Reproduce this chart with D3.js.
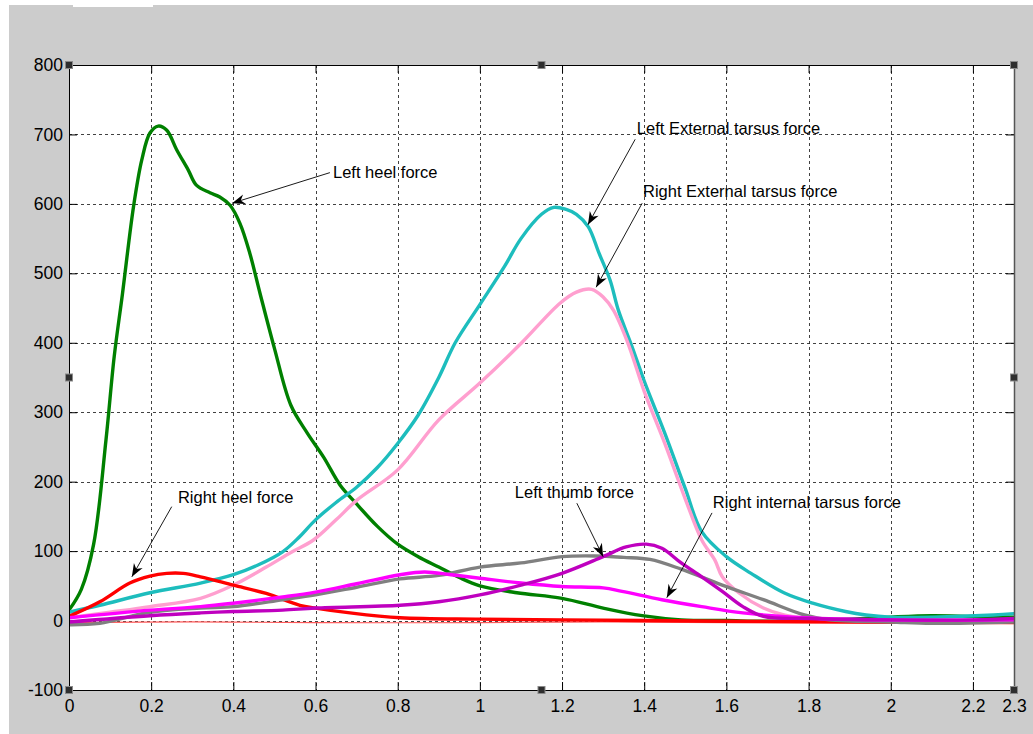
<!DOCTYPE html>
<html>
<head>
<meta charset="utf-8">
<script src="https://cdn.jsdelivr.net/npm/d3@7"></script>
<style>
  html, body { margin: 0; padding: 0; background: #ffffff; }
  svg { display: block; }
  text { font-family: "Liberation Sans", Arial, sans-serif; }
</style>
</head>
<body>
<svg id="chart" width="1033" height="734"></svg>
<script>
// ---- data: time (s) vs. force ----
const xTicks = [0, 0.2, 0.4, 0.6, 0.8, 1, 1.2, 1.4, 1.6, 1.8, 2, 2.2, 2.3];
const yTicks = [-100, 0, 100, 200, 300, 400, 500, 600, 700, 800];

const leftHeel = [[0,15],[0.03,45],[0.06,110],[0.09,260],[0.11,380],[0.13,470],[0.157,596],[0.177,663],
  [0.197,702],[0.217,712],[0.238,706],[0.262,678],[0.29,649],[0.31,627],[0.343,616],[0.367,610],
  [0.392,598],[0.416,572],[0.44,529],[0.465,471],[0.5,392],[0.54,310],[0.58,270],[0.62,235],[0.66,195],
  [0.7,168],[0.75,136],[0.8,110],[0.85,92],[0.9,77],[0.95,62],[1.0,50],[1.09,40],[1.2,32],[1.3,18],
  [1.395,7],[1.49,1],[1.6,0],[1.7,-1],[1.8,0],[1.9,2],[2.0,5],[2.1,7],[2.2,6],[2.3,5]];

const leftExtTarsus = [[0,12],[0.075,22],[0.197,40],[0.32,54],[0.4,66],[0.46,80],[0.52,99],[0.56,120],
  [0.6,145],[0.65,170],[0.7,192],[0.75,220],[0.8,255],[0.85,296],[0.9,350],[0.94,400],[1.0,455],
  [1.06,510],[1.1,550],[1.15,585],[1.18,595],[1.21,592],[1.235,585],[1.264,567],[1.29,529],[1.317,490],
  [1.337,447],[1.37,395],[1.4,345],[1.45,270],[1.5,190],[1.54,128],[1.6,92],[1.66,68],[1.74,40],
  [1.81,25],[1.89,13],[1.94,8],[2.0,5],[2.1,5],[2.25,8],[2.3,10]];

const rightExtTarsus = [[0,4],[0.1,12],[0.197,20],[0.32,32],[0.4,51],[0.48,77],[0.54,98],[0.595,116],
  [0.65,145],[0.7,173],[0.8,217],[0.9,289],[1.0,342],[1.1,399],[1.195,457],[1.235,473],[1.272,477],
  [1.3,466],[1.325,447],[1.36,400],[1.4,330],[1.45,255],[1.5,175],[1.54,116],[1.572,87],[1.59,63],
  [1.63,40],[1.69,18],[1.74,8],[1.8,3],[1.9,1],[2.0,0],[2.3,0]];

const leftThumb = [[0,-6],[0.075,-4],[0.197,12],[0.32,18],[0.4,20],[0.52,30],[0.6,37],[0.7,48],
  [0.806,60],[0.9,65],[1.0,77],[1.1,83],[1.2,92],[1.28,93],[1.35,91],[1.414,88],[1.49,74],[1.59,51],
  [1.69,30],[1.79,8],[1.85,1],[2.0,-2],[2.1,-4],[2.3,-2]];

const rightIntTarsus = [[0,4],[0.197,15],[0.32,20],[0.4,25],[0.52,34],[0.6,41],[0.7,53],[0.806,66],
  [0.865,70],[0.93,66],[1.0,61],[1.1,54],[1.2,49],[1.3,47],[1.346,42],[1.443,30],[1.54,20],[1.64,11],
  [1.79,4],[2.0,1],[2.3,1]];

const rightThumb = [[0,-2],[0.197,7],[0.32,11],[0.4,13],[0.52,15],[0.6,18],[0.806,22],[0.9,27],
  [1.0,37],[1.1,51],[1.2,68],[1.3,92],[1.356,106],[1.405,110],[1.443,104],[1.49,83],[1.54,63],
  [1.59,42],[1.64,20],[1.69,6],[1.8,3],[2.0,1],[2.2,1],[2.3,3]];

const rightHeel = [[0,6],[0.075,27],[0.148,54],[0.197,64],[0.238,68],[0.278,68],[0.32,63],[0.4,51],
  [0.48,39],[0.562,22],[0.6,18],[0.684,11],[0.806,4],[1.0,2],[1.2,1],[1.4,0],[1.6,-1],[2.0,-2],[2.3,-3]];

const baselineNoise = [[0,-3],[0.3,-2],[0.6,-3],[1.0,-3],[1.3,-2],[1.6,-3],[2.0,-4],[2.3,-3]];

// draw order (later is on top)
const seriesList = [
  { data: baselineNoise,  color: "#ff5a5a", width: 1.2 },
  { data: leftHeel,       color: "#008000", width: 3.4 },
  { data: leftExtTarsus,  color: "#1dbdbd", width: 3.4 },
  { data: rightExtTarsus, color: "#ff9fcf", width: 3.4 },
  { data: rightHeel,      color: "#ff0000", width: 3.4 },
  { data: leftThumb,      color: "#808080", width: 3.4 },
  { data: rightIntTarsus, color: "#ff00ff", width: 3.4 },
  { data: rightThumb,     color: "#bf00bf", width: 3.4 }
];

// annotation labels: text anchor point, arrow tail and arrow tip (data units)
const annotationText = ["Left heel force", "Left External tarsus force", "Right External tarsus force",
  "Right heel force", "Left thumb force", "Right internal tarsus force"];
const annotationTextAt = [[0.6425,645],[1.382,709],[1.397,618],[0.265,178],[1.085,185],[1.567,171]];
const annotationTail   = [[0.635,645],[1.378,693],[1.395,601],[0.25,164],[1.236,169],[1.565,155]];
const annotationTip    = [[0.397,601],[1.263,570],[1.283,480],[0.153,63],[1.30,92],[1.455,33]];

// ---- layout ----
const svg = d3.select("#chart");
const plot = { left: 69, top: 65, right: 1014, bottom: 690 };

const x = d3.scaleLinear().domain([0, 2.3]).range([plot.left, plot.right]);
const y = d3.scaleLinear().domain([-100, 800]).range([plot.bottom, plot.top]);

// window background
svg.append("rect").attr("x", 9).attr("y", 7).attr("width", 1024).attr("height", 727).attr("fill", "#cccccc");
svg.append("line").attr("x1", 9).attr("x2", 73).attr("y1", 6).attr("y2", 6).attr("stroke", "#9a9a9a").attr("stroke-width", 1.2);
svg.append("line").attr("x1", 153).attr("x2", 1033).attr("y1", 6).attr("y2", 6).attr("stroke", "#9a9a9a").attr("stroke-width", 1.2);

// axes area
svg.append("rect")
  .attr("x", plot.left).attr("y", plot.top)
  .attr("width", plot.right - plot.left).attr("height", plot.bottom - plot.top)
  .attr("fill", "#ffffff");

// grid
const grid = svg.append("g").attr("stroke", "#222").attr("stroke-width", 1).attr("stroke-dasharray", "3,3");
grid.selectAll("line.vx").data(xTicks.filter(d => d > 0 && d < 2.3)).join("line")
  .attr("x1", d => Math.round(x(d)) + 0.5).attr("x2", d => Math.round(x(d)) + 0.5)
  .attr("y1", plot.top).attr("y2", plot.bottom).attr("opacity", 0.85);
grid.selectAll("line.hy").data(yTicks.filter(d => d > -100 && d < 800)).join("line")
  .attr("y1", d => Math.round(y(d)) + 0.5).attr("y2", d => Math.round(y(d)) + 0.5)
  .attr("x1", plot.left).attr("x2", plot.right).attr("opacity", 0.85);

// axes with inward ticks
const tickFmt = d => String(d);
const xAxisB = d3.axisBottom(x).tickValues(xTicks).tickSize(-8).tickPadding(10).tickFormat(tickFmt);
const xAxisT = d3.axisTop(x).tickValues(xTicks).tickSize(-8).tickFormat("");
const yAxisL = d3.axisLeft(y).tickValues(yTicks).tickSize(-8).tickPadding(6).tickFormat(tickFmt);
const yAxisR = d3.axisRight(y).tickValues(yTicks).tickSize(-8).tickFormat("");

function styleAxis(g) {
  g.select(".domain").remove();
  g.selectAll(".tick line").attr("stroke", "#000");
  g.selectAll(".tick text").attr("fill", "#000").attr("font-size", 17.5)
    .attr("font-family", "'Liberation Sans', Arial, sans-serif");
}
svg.append("g").attr("transform", `translate(0,${plot.bottom})`).call(xAxisB).call(styleAxis);
svg.append("g").attr("transform", `translate(0,${plot.top})`).call(xAxisT).call(styleAxis);
svg.append("g").attr("transform", `translate(${plot.left},0)`).call(yAxisL).call(styleAxis);
svg.append("g").attr("transform", `translate(${plot.right},0)`).call(yAxisR).call(styleAxis);

// curves
svg.append("clipPath").attr("id", "plotClip").append("rect")
  .attr("x", plot.left).attr("y", plot.top).attr("width", plot.right - plot.left).attr("height", plot.bottom - plot.top);
const line = d3.line().x(d => x(d[0])).y(d => y(d[1])).curve(d3.curveCatmullRom.alpha(0.5));
svg.append("g").attr("clip-path", "url(#plotClip)")
  .selectAll("path").data(seriesList).join("path")
  .attr("d", s => line(s.data))
  .attr("fill", "none")
  .attr("stroke", s => s.color)
  .attr("stroke-width", s => s.width)
  .attr("stroke-linejoin", "round")
  .attr("stroke-linecap", "round");

// frame
svg.append("line").attr("x1", plot.left).attr("x2", plot.right).attr("y1", plot.top + 0.5).attr("y2", plot.top + 0.5).attr("stroke", "#000");
svg.append("line").attr("x1", plot.left).attr("x2", plot.right).attr("y1", plot.bottom + 0.5).attr("y2", plot.bottom + 0.5).attr("stroke", "#000");
svg.append("line").attr("x1", plot.left + 0.5).attr("x2", plot.left + 0.5).attr("y1", plot.top).attr("y2", plot.bottom).attr("stroke", "#000");
svg.append("line").attr("x1", plot.right + 0.5).attr("x2", plot.right + 0.5).attr("y1", plot.top).attr("y2", plot.bottom).attr("stroke", "#555").attr("stroke-width", 1.5);

// annotations
const ann = svg.append("g");
annotationText.forEach((label, i) => {
  const [tx, ty] = annotationTail[i];
  const [hx, hy] = annotationTip[i];
  const x1 = x(tx), y1 = y(ty), x2 = x(hx), y2 = y(hy);
  const ang = Math.atan2(y2 - y1, x2 - x1);
  ann.append("line").attr("x1", x1).attr("y1", y1).attr("x2", x2).attr("y2", y2)
    .attr("stroke", "#000").attr("stroke-width", 0.9);
  const L = 13, W = 5, N = 9;
  const cos = Math.cos(ang), sin = Math.sin(ang);
  const pts = [
    [x2, y2],
    [x2 - L * cos + W * sin, y2 - L * sin - W * cos],
    [x2 - N * cos, y2 - N * sin],
    [x2 - L * cos - W * sin, y2 - L * sin + W * cos]
  ];
  ann.append("path").attr("d", "M" + pts.map(p => p.join(",")).join("L") + "Z").attr("fill", "#000");
  ann.append("text")
    .attr("x", x(annotationTextAt[i][0])).attr("y", y(annotationTextAt[i][1]))
    .attr("dy", "0.35em").attr("font-size", 16.5).attr("fill", "#000")
    .text(label);
});

// selection handles
const hxs = [plot.left, (plot.left + plot.right) / 2, plot.right];
const hys = [plot.top, (plot.top + plot.bottom) / 2, plot.bottom];
const handles = [];
hxs.forEach((a, i) => hys.forEach((b, j) => { if (!(i === 1 && j === 1)) handles.push([a, b]); }));
svg.append("g").selectAll("rect").data(handles).join("rect")
  .attr("x", d => d[0] - 3.5).attr("y", d => d[1] - 3.5).attr("width", 7).attr("height", 7)
  .attr("fill", "#2e2e2e").attr("stroke", "#8a8a8a").attr("stroke-width", 1);
</script>
</body>
</html>
